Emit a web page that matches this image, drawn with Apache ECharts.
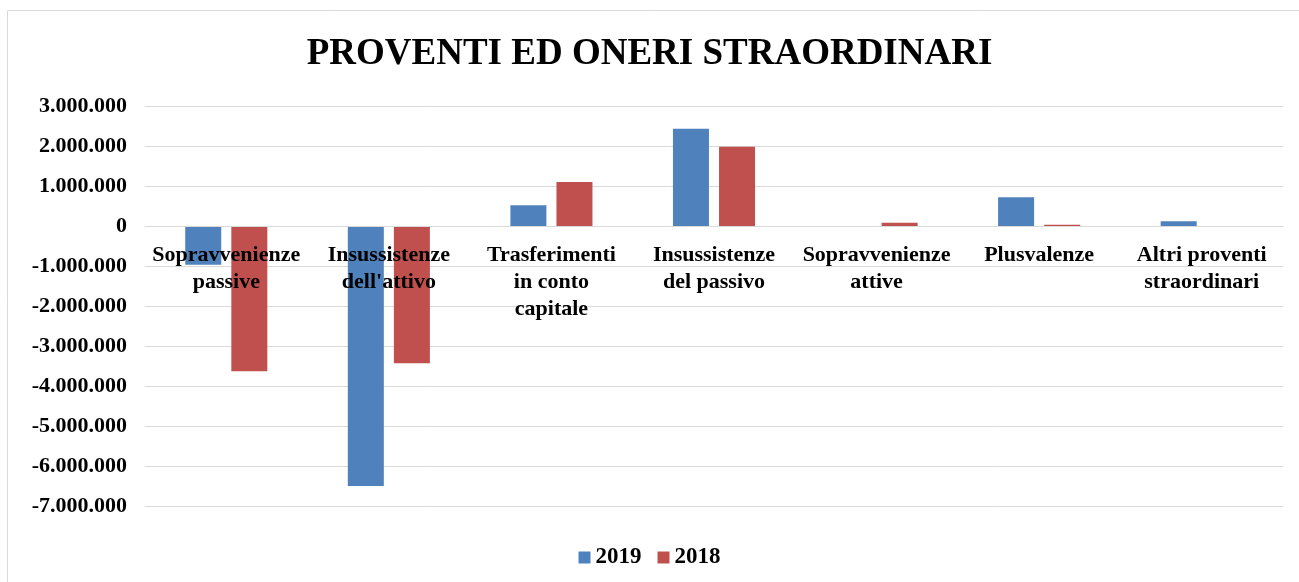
<!DOCTYPE html>
<html>
<head>
<meta charset="utf-8">
<title>Proventi ed oneri straordinari</title>
<script src="https://cdn.jsdelivr.net/npm/echarts@6/dist/echarts.min.js"></script>
<style>
  html, body { margin: 0; padding: 0; background: #fff; }
  #chart { width: 1299px; height: 582px; }
</style>
</head>
<body>
<div id="chart"></div>
<script>
// categorie e valori
var categories = [
  "Sopravvenienze\npassive",
  "Insussistenze\ndell'attivo",
  "Trasferimenti\nin conto\ncapitale",
  "Insussistenze\ndel passivo",
  "Sopravvenienze\nattive",
  "Plusvalenze",
  "Altri proventi\nstraordinari"
];
var values2019 = [-970000, -6500000, 520000, 2430000, 0, 720000, 120000];
var values2018 = [-3630000, -3430000, 1100000, 1980000, 80000, 30000, 0];
var yMin = -7000000;
var yMax = 3000000;
var yStep = 1000000;

var font = "'Liberation Serif', 'Times New Roman', serif";
var gridTop = 106, gridBottom = 76, chartH = 582;
// le etichette delle categorie stanno sulla linea dello zero
var zeroOffset = -(0 - yMin) / (yMax - yMin) * (chartH - gridTop - gridBottom);

function fmt(v) {
  var s = String(Math.abs(v)).replace(/\B(?=(\d{3})+(?!\d))/g, ".");
  return (v < 0 ? "-" : "") + s;
}

var chart = echarts.init(document.getElementById("chart"));
chart.setOption({
  animation: false,
  color: ["#4F81BD", "#C0504D"],
  title: {
    text: "PROVENTI ED ONERI STRAORDINARI",
    left: "center",
    top: 31,
    textStyle: { fontFamily: font, fontSize: 37, fontWeight: "bold", color: "#000" }
  },
  legend: {
    data: ["2019", "2018"],
    bottom: 8,
    left: "center",
    icon: "rect",
    itemWidth: 12,
    itemHeight: 12,
    itemGap: 16,
    textStyle: { fontFamily: font, fontSize: 23, fontWeight: "bold", color: "#000" }
  },
  graphic: [{
    type: "rect",
    shape: { x: 7.5, y: 10.5, width: 1310, height: 600 },
    style: { fill: null, stroke: "#d9d9d9", lineWidth: 1 },
    silent: true
  }],
  grid: { left: 145, right: 16, top: gridTop, bottom: gridBottom, outerBoundsMode: "none" },
  xAxis: {
    type: "category",
    data: categories,
    offset: zeroOffset,
    z: 5,
    axisTick: { show: false },
    axisLine: { onZero: false, lineStyle: { color: "#d9d9d9", width: 1 } },
    axisLabel: {
      interval: 0,
      margin: 16,
      fontFamily: font,
      fontSize: 22,
      fontWeight: "bold",
      color: "#000",
      lineHeight: 27
    }
  },
  yAxis: {
    type: "value",
    min: yMin,
    max: yMax,
    interval: yStep,
    axisLine: { show: false },
    axisTick: { show: false },
    splitLine: { lineStyle: { color: "#d9d9d9", width: 1 } },
    axisLabel: {
      margin: 18,
      fontFamily: font,
      fontSize: 22,
      fontWeight: "bold",
      color: "#000",
      formatter: fmt
    }
  },
  series: [
    { name: "2019", type: "bar", data: values2019, barWidth: 36, barGap: "28%" },
    { name: "2018", type: "bar", data: values2018, barWidth: 36, barGap: "28%" }
  ]
});
</script>
</body>
</html>
